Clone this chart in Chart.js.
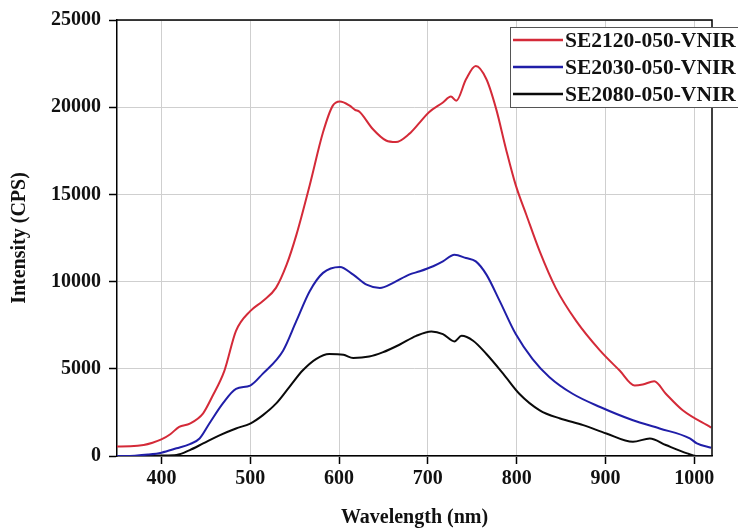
<!DOCTYPE html>
<html>
<head>
<meta charset="utf-8">
<script src="https://cdn.jsdelivr.net/npm/chart.js@4.4.1/dist/chart.umd.min.js"></script>
<style>
  html, body { margin: 0; padding: 0; background: #fff; }
  #wrap { width: 738px; height: 530px; }
</style>
</head>
<body>
<div id="wrap"><canvas id="myChart" width="738" height="530"></canvas></div>
<script>
// Spectra (wavelength in nm, intensity in CPS)
const redWl = [350, 365, 380, 390, 400, 410, 420, 432, 447, 457, 471, 484, 500, 514, 529, 541, 552, 567, 582, 593, 601, 612, 618, 623, 638, 653, 664, 679, 691, 701, 717, 726, 732, 743, 754, 766, 777, 788, 799, 811, 826, 844, 867, 894, 916, 933, 942, 955, 968, 987, 1019];
const redCps = [550, 560, 630, 760, 950, 1250, 1670, 1860, 2450, 3380, 4900, 7175, 8310, 8880, 9640, 10970, 12680, 15530, 18560, 20090, 20330, 20090, 19850, 19740, 18750, 18090, 18000, 18470, 19130, 19700, 20270, 20610, 20370, 21600, 22360, 21600, 19890, 17610, 15530, 13820, 11730, 9640, 7745, 6040, 4900, 4040, 4100, 4290, 3570, 2620, 1630];

const blueWl = [350, 370, 385, 400, 417, 432, 443, 454, 469, 484, 500, 514, 537, 552, 567, 582, 601, 616, 631, 646, 661, 679, 691, 706, 717, 730, 743, 754, 766, 781, 799, 818, 837, 863, 894, 931, 961, 995, 1003, 1019];
const blueCps = [0, 20, 80, 190, 440, 680, 1000, 1860, 3000, 3850, 4040, 4710, 6040, 7745, 9450, 10500, 10840, 10400, 9830, 9640, 9930, 10400, 10590, 10880, 11160, 11540, 11350, 11160, 10400, 8880, 6990, 5560, 4520, 3570, 2810, 2050, 1580, 1010, 720, 470];

const blackWl = [350, 380, 400, 417, 432, 447, 466, 484, 500, 514, 529, 544, 559, 574, 589, 605, 616, 634, 649, 668, 687, 704, 717, 730, 738, 751, 766, 785, 803, 826, 849, 875, 901, 931, 950, 968, 992, 1002, 1020];
const blackCps = [0, 0, 30, 60, 340, 720, 1200, 1580, 1860, 2330, 3000, 3950, 4900, 5560, 5850, 5800, 5620, 5700, 5940, 6380, 6890, 7140, 6990, 6570, 6890, 6610, 5850, 4710, 3570, 2620, 2150, 1770, 1290, 810, 1010, 630, 150, 0, 0];

const seriesNames = ['SE2120-050-VNIR', 'SE2030-050-VNIR', 'SE2080-050-VNIR'];
const seriesColors = ['rgb(212, 42, 56)', 'rgb(32, 30, 168)', 'rgb(10, 10, 10)'];
const xTicks = [400, 500, 600, 700, 800, 900, 1000];

const FONT = '"Liberation Serif", "Times New Roman", serif';

function toPoints(xs, ys) {
    return xs.map((x, i) => ({ x: x, y: ys[i] }));
}

// Frame around plot + legend box in the upper right
const framePlugin = {
    id: 'frame',
    afterDraw(chart) {
        const ctx = chart.ctx;
        const a = chart.chartArea;
        ctx.save();
        ctx.strokeStyle = '#000';
        ctx.lineWidth = 1.5;
        ctx.beginPath();
        ctx.moveTo(a.left, a.top);
        ctx.lineTo(a.right, a.top);
        ctx.lineTo(a.right, a.bottom);
        ctx.stroke();

        // legend
        const bx = 510, by = 27, bw = 236, bh = 80;
        ctx.fillStyle = '#fff';
        ctx.fillRect(bx, by, bw, bh);
        ctx.strokeStyle = '#555';
        ctx.lineWidth = 1;
        ctx.strokeRect(bx + 0.5, by + 0.5, bw, bh);
        ctx.font = 'bold 21.5px ' + FONT;
        ctx.textBaseline = 'middle';
        chart.data.datasets.forEach((ds, i) => {
            const y = by + 13 + i * 27;
            ctx.strokeStyle = ds.borderColor;
            ctx.lineWidth = 2.5;
            ctx.beginPath();
            ctx.moveTo(bx + 3, y);
            ctx.lineTo(bx + 53, y);
            ctx.stroke();
            ctx.fillStyle = '#111';
            ctx.fillText(ds.label, bx + 55, y + 1);
        });
        ctx.restore();
    }
};

const tickFont = { family: FONT, size: 20, weight: 'bold' };

const ctx = document.getElementById('myChart').getContext('2d');
const myChart = new Chart(ctx, {
    type: 'line',
    data: {
        datasets: [
            { label: seriesNames[0], data: toPoints(redWl, redCps), borderColor: seriesColors[0] },
            { label: seriesNames[1], data: toPoints(blueWl, blueCps), borderColor: seriesColors[1] },
            { label: seriesNames[2], data: toPoints(blackWl, blackCps), borderColor: seriesColors[2] }
        ]
    },
    options: {
        responsive: false,
        animation: false,
        events: [],
        layout: { padding: { left: 0, right: 26, top: 17, bottom: 0 } },
        elements: {
            point: { radius: 0 },
            line: { borderWidth: 2, cubicInterpolationMode: 'monotone', fill: false }
        },
        plugins: { legend: { display: false }, tooltip: { enabled: false } },
        scales: {
            x: {
                type: 'linear',
                min: 350,
                max: 1020,
                afterBuildTicks: (scale) => { scale.ticks = xTicks.map(v => ({ value: v })); },
                afterFit: (scale) => { scale.height = 74; },
                border: { display: true, color: '#000', width: 1.5 },
                grid: { color: '#cfcfcf', lineWidth: 1, tickColor: '#000', tickLength: 8, tickWidth: 1.5 },
                ticks: { color: '#111', padding: 3, font: tickFont, callback: (v) => String(v) },
                title: {
                    display: true, text: 'Wavelength (nm)', color: '#111',
                    padding: { top: 0, bottom: 0 },
                    font: { family: FONT, size: 20, weight: 'bold' }
                }
            },
            y: {
                min: 0,
                max: 25000,
                afterFit: (scale) => { scale.width = 117; },
                border: { display: true, color: '#000', width: 1.5 },
                grid: { color: '#cfcfcf', lineWidth: 1, tickColor: '#000', tickLength: 8, tickWidth: 1.5 },
                ticks: { stepSize: 5000, color: '#111', padding: 8, font: tickFont, callback: (v) => String(v) },
                title: {
                    display: true, text: 'Intensity (CPS)', color: '#111',
                    padding: { top: 8, bottom: 0 },
                    font: { family: FONT, size: 20, weight: 'bold' }
                }
            }
        }
    },
    plugins: [framePlugin]
});
</script>
</body>
</html>
